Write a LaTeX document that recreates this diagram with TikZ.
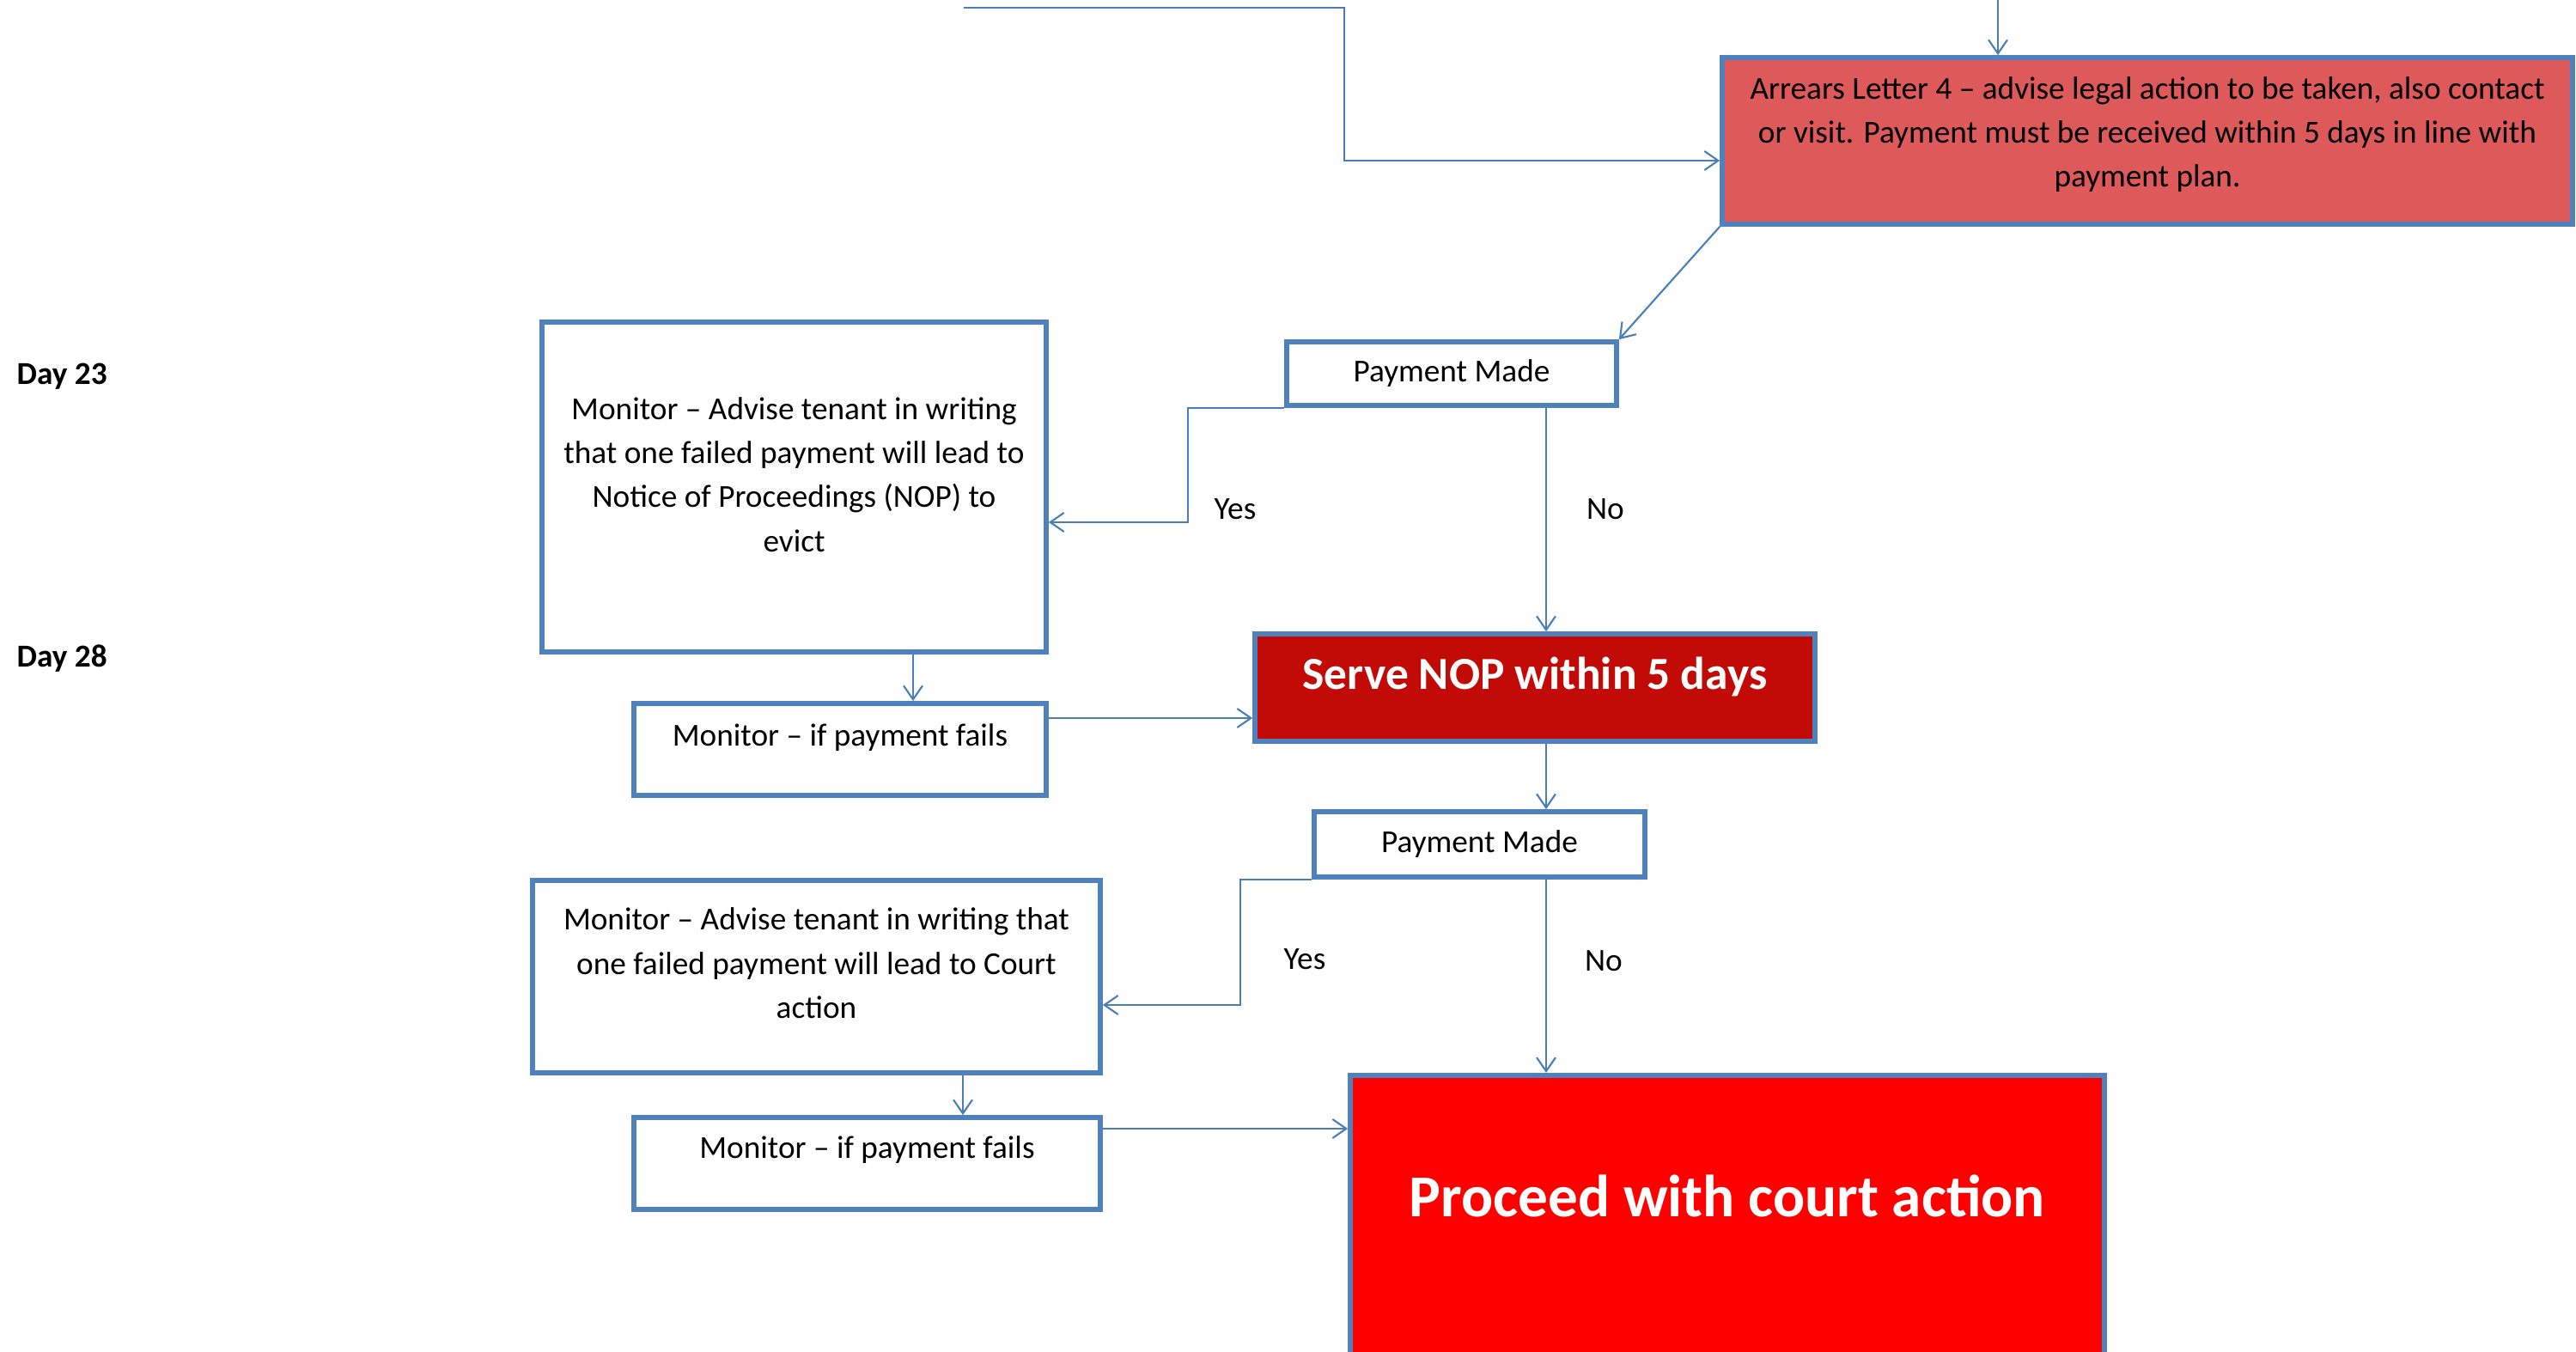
\documentclass[tikz,border=0pt]{standalone}
\usepackage{fontspec}
\setmainfont{Carlito}
\usepackage{tikz}
\usetikzlibrary{arrows.meta}
\definecolor{boxblue}{RGB}{79,129,189}
\definecolor{linkblue}{RGB}{74,126,187}
\definecolor{letterred}{RGB}{222,89,89}
\definecolor{nopred}{RGB}{194,10,6}
\definecolor{courtred}{RGB}{255,0,0}
\tikzstyle{stage} = [rectangle, draw=boxblue, line width=1.6pt, fill=white, align=center, inner sep=0pt, font=\fontsize{10.6}{14.6}\selectfont]
\tikzstyle{letter} = [stage, fill=letterred]
\tikzstyle{check} = [stage]
\tikzstyle{watch} = [stage, inner sep=0pt]
\tikzstyle{nop} = [stage, fill=nopred, text=white, font=\bfseries\fontsize{15.2}{18}\selectfont]
\tikzstyle{court} = [stage, fill=courtred, text=white, font=\bfseries\fontsize{19.7}{24}\selectfont]
\tikzstyle{answer} = [font=\fontsize{10.6}{14.6}\selectfont]
\tikzstyle{day} = [anchor=west, inner sep=0pt, font=\bfseries\fontsize{10.6}{14.6}\selectfont]
\tikzstyle{arrow} = [draw=linkblue, line width=0.6pt, -{Straight Barb[length=1.6mm, width=2.2mm]}]
% empty last line, lifts the text block a little inside its box
\newcommand{\liftby}[1]{\\[#1]\mbox{}}

\begin{document}
\begin{tikzpicture}
        \useasboundingbox (0,0) rectangle (29.99,15.73);
        \node (d23) [day] at (0.19,11.35) {Day 23};
        \node (d28) [day] at (0.19,8.06) {Day 28};
        \node (arrears) [letter, minimum width=9.90cm, minimum height=1.94cm] at (25.00,14.09) {Arrears Letter 4 – advise legal action to be taken, also contact\\or visit. Payment must be received within 5 days in line with\\payment plan.\liftby{-0.306cm}};
        \node (pm1) [check, minimum width=3.84cm, minimum height=0.74cm] at (16.90,11.38) {Payment Made};
        \node (mon1) [watch, minimum width=5.87cm, minimum height=3.84cm] at (9.245,10.06) {Monitor – Advise tenant in writing\\that one failed payment will lead to\\Notice of Proceedings (NOP) to\\evict\liftby{-0.216cm}};
        \node (fail1) [watch, minimum width=4.80cm, minimum height=1.07cm, text height=0.50cm, text depth=0.57cm] at (9.78,7.005) {Monitor – if payment fails};
        \node (serve) [nop, minimum width=6.52cm, minimum height=1.25cm, text height=0.65cm, text depth=0.60cm] at (17.87,7.725) {Serve NOP within 5 days};
        \node (pm2) [check, minimum width=3.85cm, minimum height=0.76cm] at (17.225,5.90) {Payment Made};
        \node (mon2) [watch, minimum width=6.61cm, minimum height=2.24cm] at (9.505,4.36) {Monitor – Advise tenant in writing that\\one failed payment will lead to Court\\action\liftby{-0.196cm}};
        \node (fail2) [watch, minimum width=5.43cm, minimum height=1.07cm, text height=0.48cm, text depth=0.59cm] at (10.095,2.185) {Monitor – if payment fails};
        \node (proceed) [court, anchor=north, minimum width=8.78cm, text height=1.65cm, text depth=1.8cm] at (20.11,3.24) {Proceed with court action};
        % links coming in from above the picture
        \coordinate (fromleft) at (11.22,15.64);
        \coordinate (bend1) at (15.65,13.86);
        \coordinate (fromtop) at (23.26,15.80);
        \draw [arrow] (fromleft) -| (bend1) -- (bend1 -| arrears.west);
        \draw [arrow] (fromtop) -- (fromtop |- arrears.north);
        \draw [arrow] (arrears.south west) -- (pm1.north east);
        % first payment check
        \coordinate (yes1) at (13.83,9.65);
        \draw [arrow] (pm1.south west) -| (yes1) -- (yes1 -| mon1.east);
        \node (yes1lbl) [answer] at (14.38,9.80) {Yes};
        \draw [arrow] (pm1.south -| 18.00,0) -- (serve.north -| 18.00,0);
        \node (no1lbl) [answer] at (18.69,9.80) {No};
        \draw [arrow] (mon1.south -| 10.63,0) -- (fail1.north -| 10.63,0);
        \draw [arrow] (fail1.east |- 0,7.37) -- (serve.west |- 0,7.37);
        % second payment check
        \draw [arrow] (serve.south -| 18.00,0) -- (pm2.north -| 18.00,0);
        \coordinate (yes2) at (14.44,4.03);
        \draw [arrow] (pm2.south west) -| (yes2) -- (yes2 -| mon2.east);
        \node (yes2lbl) [answer] at (15.19,4.56) {Yes};
        \draw [arrow] (pm2.south -| 18.00,0) -- (proceed.north -| 18.00,0);
        \node (no2lbl) [answer] at (18.67,4.54) {No};
        \draw [arrow] (mon2.south -| 11.21,0) -- (fail2.north -| 11.21,0);
        \draw [arrow] (fail2.east |- 0,2.59) -- (proceed.west |- 0,2.59);
\end{tikzpicture}
\end{document}
